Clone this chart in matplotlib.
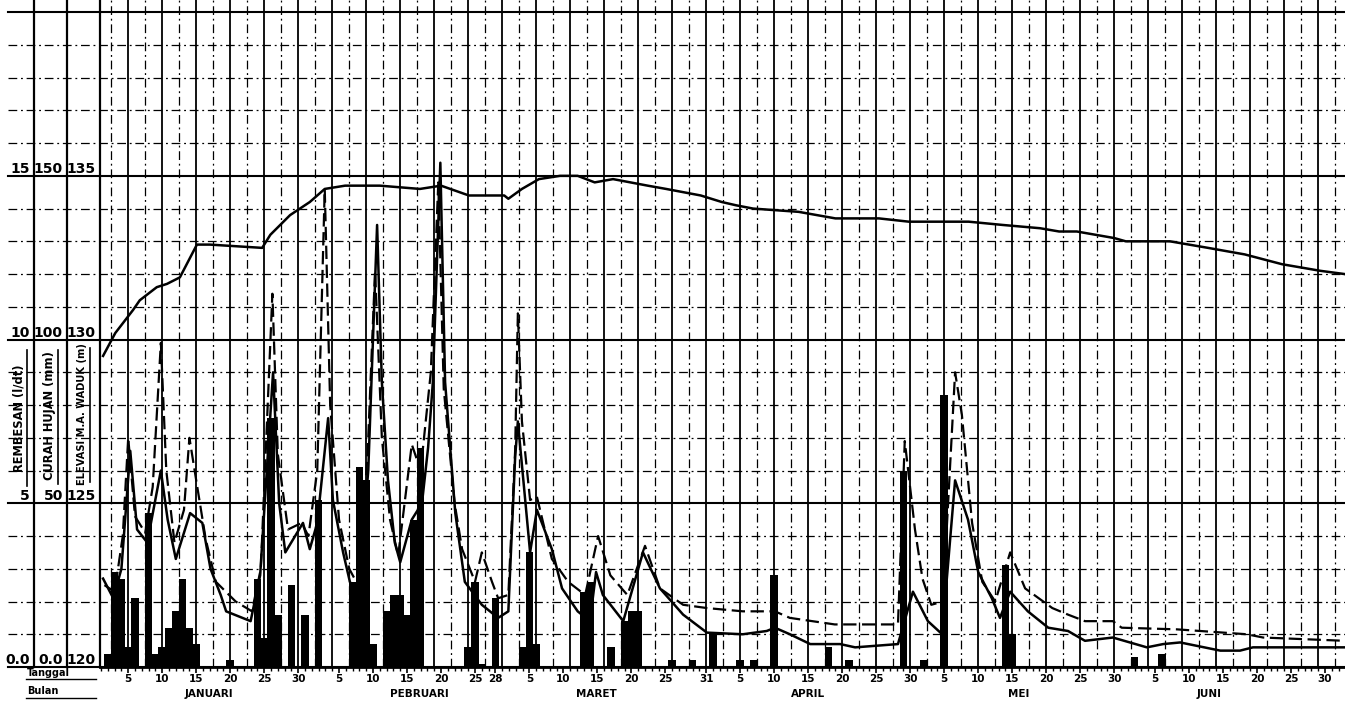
import numpy as np
import matplotlib.pyplot as plt
from matplotlib.lines import Line2D
from matplotlib.transforms import blended_transform_factory

# ============================================
# DATA
# ============================================
# hari = day of year (1 = 1 Januari)

# elevasi muka air waduk (m)
hari_elevasi = [1.3, 3.1, 5.7, 6.7, 9.2, 10.7, 12.6, 14.1, 15.1, 17.0, 24.7, 25.9, 28.8,
                31.7, 33.9, 36.9, 42.0, 47.9, 51.0, 55.1, 60.3, 60.9, 62.9, 65.4, 68.5,
                71.1, 73.6, 76.3, 81.4, 84.1, 89.2, 92.3, 94.4, 96.9, 103.6, 109.0, 115.4,
                119.8, 124.2, 126.4, 128.6, 133.6, 139.1, 141.9, 144.5, 150.0, 151.7,
                158.2, 163.8, 169.2, 174.7, 180.3, 183.9]
elevasi_waduk = [129.5, 130.2, 130.9, 131.2, 131.6, 131.7, 131.9, 132.5, 132.9, 132.9, 132.8,
                 133.2, 133.8, 134.2, 134.6, 134.7, 134.7, 134.6, 134.7, 134.4, 134.4, 134.3,
                 134.6, 134.9, 135.0, 135.0, 134.8, 134.9, 134.7, 134.6, 134.4, 134.2, 134.1,
                 134.0, 133.9, 133.7, 133.7, 133.6, 133.6, 133.6, 133.6, 133.5, 133.4, 133.3,
                 133.3, 133.1, 133.0, 133.0, 132.8, 132.6, 132.3, 132.1, 132.0]

# rembesan (l/dt) - garis penuh
hari_r1 = [1.3, 2.8, 4.0, 5.3, 6.3, 7.8, 9.8, 10.8, 12.0, 14.1, 15.9, 17.1, 18.6, 19.4,
           23.0, 24.4, 26.3, 27.2, 28.1, 30.7, 31.7, 32.8, 34.4, 35.1, 36.6, 37.6, 38.8,
           40.3, 41.6, 42.3, 43.2, 44.2, 45.0, 46.7, 48.2, 49.1, 49.8, 50.9, 51.6, 53.1,
           54.5, 57.0, 59.4, 60.9, 61.9, 62.3, 64.1, 65.1, 67.3, 68.8, 71.1, 72.9, 73.8,
           74.8, 77.8, 80.7, 83.2, 86.6, 90.1, 95.4, 98.9, 100.1, 102.3, 105.3, 109.7,
           111.9, 118.2, 120.4, 122.6, 124.7, 126.6, 128.5, 130.0, 132.0, 133.2, 134.7,
           137.3, 140.3, 143.2, 145.7, 149.8, 154.8, 157.2, 159.7, 165.6, 168.5, 170.4, 183.9]
rembesan_1 = [2.7, 2.1, 3.0, 6.6, 4.2, 3.8, 6.0, 4.5, 3.3, 4.7, 4.4, 3.0, 2.2, 1.7, 1.4,
              2.8, 9.0, 5.0, 3.5, 4.4, 3.6, 4.4, 7.6, 5.1, 3.5, 2.6, 2.2, 6.0, 13.5, 8.7,
              5.7, 3.8, 3.2, 4.5, 5.0, 6.7, 8.7, 15.4, 8.7, 4.7, 2.6, 1.9, 1.5, 1.7, 6.4,
              7.5, 3.5, 4.8, 3.6, 2.4, 1.7, 1.4, 2.9, 2.2, 1.4, 3.5, 2.4, 1.6, 1.05, 1.0,
              1.1, 1.2, 1.0, 0.7, 0.7, 0.6, 0.7, 2.3, 1.4, 1.0, 5.7, 4.5, 2.9, 2.1, 1.5,
              2.3, 1.7, 1.2, 1.1, 0.8, 0.9, 0.6, 0.7, 0.75, 0.5, 0.5, 0.6, 0.6]

# rembesan (l/dt) - garis putus-putus
hari_r2 = [1.5, 3.0, 4.2, 5.0, 6.0, 7.5, 8.6, 9.8, 10.6, 11.8, 13.2, 14.0, 15.0, 16.4,
           17.9, 20.8, 23.2, 24.5, 26.2, 27.0, 28.5, 30.5, 31.5, 32.8, 33.9, 34.7, 36.0,
           37.5, 38.8, 40.2, 41.3, 42.3, 43.5, 44.7, 46.7, 48.0, 49.5, 50.6, 51.4, 53.0,
           54.1, 56.0, 57.0, 58.5, 59.4, 60.9, 61.9, 62.3, 62.9, 64.1, 65.1, 67.3, 69.7,
           72.2, 74.1, 75.9, 78.4, 81.0, 83.2, 86.6, 90.1, 95.4, 100.1, 102.3, 108.9,
           118.2, 119.2, 120.7, 121.8, 123.1, 124.8, 126.6, 127.6, 129.1, 130.6, 132.5,
           134.7, 136.9, 140.9, 143.2, 145.7, 149.8, 151.1, 159.2, 169.5, 171.9, 183.9]
rembesan_2 = [2.5, 2.3, 4.0, 7.0, 4.6, 4.1, 5.5, 9.9, 6.0, 3.8, 4.8, 7.0, 5.7, 3.9, 2.6,
              2.0, 1.7, 3.0, 11.4, 6.5, 4.2, 4.4, 4.0, 6.0, 14.6, 8.0, 4.5, 3.0, 2.5, 6.5,
              12.1, 7.0, 4.5, 3.4, 6.8, 6.0, 9.0, 14.8, 8.5, 5.0, 3.6, 2.6, 3.5, 2.6, 2.1,
              2.2, 6.6, 10.8, 7.5, 5.1, 5.2, 3.3, 2.6, 2.2, 4.0, 2.8, 2.2, 3.7, 2.4, 1.9,
              1.8, 1.7, 1.7, 1.5, 1.3, 1.3, 6.9, 4.2, 2.7, 1.9, 2.0, 9.0, 7.7, 4.4, 2.6,
              2.0, 3.5, 2.4, 1.8, 1.6, 1.4, 1.4, 1.2, 1.15, 1.0, 0.9, 0.8]

# curah hujan harian (mm)
hari_hujan = [2, 3, 4, 5, 6, 8, 9, 10, 11, 12, 13, 14, 15, 20, 24, 25, 26, 27, 29, 31,
              33, 38, 39, 40, 41, 43, 44, 45, 46, 47, 48, 55, 56, 57, 59, 63, 64, 65, 72,
              73, 76, 78, 79, 80, 85, 88, 91, 95, 97, 100, 108, 111, 119, 122, 125, 134,
              135, 153, 157]
curah_hujan = [4, 29, 27, 6, 21, 47, 4, 6, 12, 17, 27, 12, 7, 2, 27, 9, 76, 16, 25, 16,
               51, 26, 61, 57, 7, 17, 22, 22, 16, 45, 67, 6, 26, 1, 21, 6, 35, 7, 23, 26,
               6, 14, 17, 17, 2, 2, 10, 2, 2, 28, 6, 2, 60, 2, 83, 31, 10, 3, 4]

# sumbu tanggal
tanggal_hari = [5, 10, 15, 20, 25, 30, 36, 41, 46, 51, 56, 59, 64, 69, 74, 79, 84, 90,
                95, 100, 105, 110, 115, 120, 125, 130, 135, 140, 145, 150, 156, 161,
                166, 171, 176, 181]
tanggal_label = ['5', '10', '15', '20', '25', '30', '5', '10', '15', '20', '25', '28',
                 '5', '10', '15', '20', '25', '31', '5', '10', '15', '20', '25', '30',
                 '5', '10', '15', '20', '25', '30', '5', '10', '15', '20', '25', '30']
bulan = ['JANUARI', 'PEBRUARI', 'MARET', 'APRIL', 'MEI', 'JUNI']
bulan_hari = [16.9, 47.8, 73.9, 105.0, 136.0, 164.0]

# ============================================
# FIGUR
# ============================================
W, H = 1345, 706
fig = plt.figure(figsize=(W / 100, H / 100), dpi=100)


def fx(px):
    return px / W


def fy(py):
    return 1 - py / H


ax = fig.add_axes([fx(100), fy(667), (W - 100) / W, 667 / H])
ax.set_xlim(0.85, 183.94)
ax.set_ylim(0, 20.37)
ax_h = ax.twinx()
ax_h.set_ylim(0, 203.7)
ax_e = ax.twinx()
ax_e.set_ylim(120, 140.37)

bold = dict(fontweight='bold', family='DejaVu Sans')

for a in (ax, ax_h, ax_e):
    for s in ('top', 'right', 'bottom'):
        a.spines[s].set_visible(False)
    a.spines['left'].set_visible(True)
    a.spines['left'].set_linewidth(1.6)
    a.yaxis.tick_left()
    a.tick_params(axis='y', length=0, pad=3, labelsize=10)
ax.spines['bottom'].set_visible(True)
ax.spines['bottom'].set_linewidth(2.0)
ax.spines['left'].set_position(('axes', -66 / 1245))
ax_h.spines['left'].set_position(('axes', -33 / 1245))

ax.set_yticks([0, 5, 10, 15], labels=['0.0', '5', '10', '15'])
ax_h.set_yticks([0, 50, 100, 150], labels=['0.0', '50', '100', '150'])
ax_e.set_yticks([120, 125, 130, 135], labels=['120', '125', '130', '135'])
for a in (ax, ax_h, ax_e):
    plt.setp(a.get_yticklabels(), va='bottom', fontweight='bold')

# --- grid kertas milimeter ---
trans = blended_transform_factory(ax.transAxes, ax.transData)
for v in range(0, 21):
    if v % 5 == 0:
        ax.plot([-92 / 1245, 1], [v, v], transform=trans, color='k', lw=1.5,
                clip_on=False, zorder=1)
    else:
        ax.plot([-92 / 1245, 1], [v, v], transform=trans, color='k', lw=0.9,
                ls=(0, (7, 3, 1.5, 3)), clip_on=False, zorder=1)
for d in range(5, 184, 5):
    ax.axvline(d, color='k', lw=1.3, zorder=1)
for d in np.arange(2.5, 184, 5):
    ax.axvline(d, color='k', lw=0.9, ls=(0, (7, 3, 1.5, 3)), zorder=1)

# --- sumbu x ---
ax.set_xticks(tanggal_hari, labels=tanggal_label)
ax.set_xticks(np.arange(1, 184), minor=True)
ax.tick_params(axis='x', which='major', length=4, width=1.2, pad=1, labelsize=7.5)
ax.tick_params(axis='x', which='minor', length=3, width=1.0)
plt.setp(ax.get_xticklabels(), fontweight='bold')

tb = blended_transform_factory(ax.transData, ax.transAxes)
for nama, d in zip(bulan, bulan_hari):
    ax.text(d, -27 / 667, nama, transform=tb, ha='center', va='center', fontsize=7.5, **bold)

# --- data ---
ax.plot(hari_r1, rembesan_1, color='k', lw=1.8, zorder=4)
ax.plot(hari_r2, rembesan_2, color='k', lw=1.6, ls=(0, (6, 2.5)), zorder=4)
ax_h.bar(hari_hujan, curah_hujan, width=1.1, color='k', zorder=3)
ax_e.plot(hari_elevasi, elevasi_waduk, color='k', lw=1.8, zorder=4)

# --- label sumbu kiri ---
fig.text(fx(19), fy(418), 'REMBESAN (l/dt)', rotation=90, ha='center', va='center',
         fontsize=8.3, **bold)
fig.text(fx(50), fy(416), 'CURAH HUJAN (mm)', rotation=90, ha='center', va='center',
         fontsize=8.3, **bold)
fig.text(fx(82), fy(414), 'ELEVASI M.A. WADUK (m)', rotation=90, ha='center', va='center',
         fontsize=7.1, **bold)
for xl, y0, y1 in [(27, 350, 486), (58, 350, 484), (90, 348, 482)]:
    fig.add_artist(Line2D([fx(xl), fx(xl)], [fy(y0), fy(y1)], color='k', lw=1.2))

fig.text(fx(27), fy(673), 'Tanggal', ha='left', va='center', fontsize=7, **bold)
fig.text(fx(27), fy(691), 'Bulan', ha='left', va='center', fontsize=7, **bold)
fig.add_artist(Line2D([fx(26), fx(96)], [fy(679), fy(679)], color='k', lw=1.0))
fig.add_artist(Line2D([fx(26), fx(96)], [fy(698), fy(698)], color='k', lw=1.0))

plt.savefig('out.png', dpi=100)
